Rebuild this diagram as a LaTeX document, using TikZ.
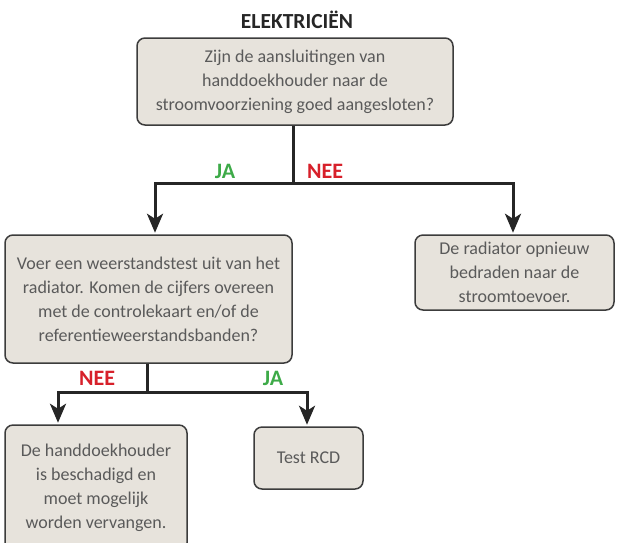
\documentclass[tikz,border=0pt]{standalone}
\usepackage{fontspec}
\setmainfont{Carlito}
\usetikzlibrary{arrows.meta}
\definecolor{boxfill}{RGB}{231,227,220}
\definecolor{boxline}{RGB}{60,60,60}
\definecolor{txt}{RGB}{90,90,90}
\definecolor{conn}{RGB}{38,38,38}
\definecolor{jagreen}{RGB}{61,170,72}
\definecolor{neered}{RGB}{215,32,42}
\tikzset{
  flowbox/.style={draw=boxline, line width=1.5pt, fill=boxfill, rounded corners=8pt,
    align=center, text=txt, inner sep=0pt,
    font=\fontsize{18}{24}\selectfont},
  wire/.style={draw=conn, line width=3pt},
  arrowwire/.style={wire, -{Stealth[length=19pt,width=16pt,inset=5pt]}, shorten >=1.5pt},
  yeslabel/.style={text=jagreen, font=\fontsize{22}{24}\selectfont\bfseries, inner sep=0pt},
  nolabel/.style={text=neered, font=\fontsize{22}{24}\selectfont\bfseries, inner sep=0pt},
  titlelabel/.style={text=black!85, font=\fontsize{21.5}{24}\selectfont\bfseries, inner sep=0pt}
}
\begin{document}
\begin{tikzpicture}[x=1pt,y=-1pt]
\useasboundingbox (0,0) rectangle (617,542);
\clip (0,0) rectangle (617,542);
\node[titlelabel] (title) at (297,20) {ELEKTRICIËN};
\node[flowbox, minimum width=316pt, minimum height=87pt] (top) at (295,81.5)
  {Zijn de aansluitingen van\\handdoekhouder naar de\\stroomvoorziening goed aangesloten?};
\node[flowbox, minimum width=287pt, minimum height=128pt] (mid) at (148.5,299)
  {Voer een weerstandstest uit van het\\radiator. Komen de cijfers overeen\\met de controlekaart en/of de\\referentieweerstandsbanden?};
\node[flowbox, minimum width=199pt, minimum height=75pt] (right) at (514.5,272.5)
  {De radiator opnieuw\\bedraden naar de\\stroomtoevoer.};
\node[flowbox, minimum width=182pt, minimum height=126pt] (bl) at (96,488)
  {De handdoekhouder\\is beschadigd en\\moet mogelijk\\worden vervangen.};
\node[flowbox, minimum width=109pt, minimum height=62pt] (rcd) at (308.5,458)
  {Test RCD};
\coordinate (j1) at (293,183);
\coordinate (j2) at (147,392);
\draw[wire] ([xshift=-2pt]top.south) -- (j1);
\draw[arrowwire] (j1) -| ([xshift=6.5pt]mid.north);
\draw[arrowwire] (j1) -| ([xshift=-1.5pt]right.north);
\draw[wire] ([xshift=-1.5pt]mid.south) -- (j2);
\draw[arrowwire] (j2) -| ([xshift=-38pt]bl.north);
\draw[arrowwire] (j2) -| ([xshift=-1.5pt]rcd.north);
\node[yeslabel] (ja1) at (225,171) {JA};
\node[nolabel] (nee1) at (325,171) {NEE};
\node[nolabel] (nee2) at (97,378) {NEE};
\node[yeslabel] (ja2) at (273,378) {JA};
\end{tikzpicture}
\end{document}
